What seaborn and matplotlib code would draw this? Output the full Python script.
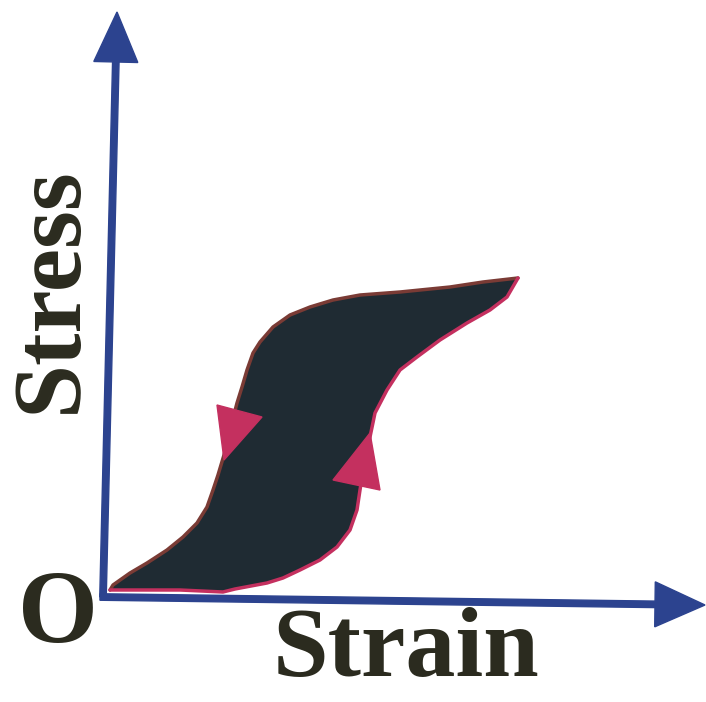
import numpy as np
import pandas as pd
import seaborn as sns
import matplotlib.pyplot as plt

# loading branch (origin -> tip), strain / stress in arbitrary units
load_strain = [0.07, 0.77, 1.20, 1.32, 1.64, 1.80, 1.97, 2.17, 2.34, 2.47, 2.54,
               2.57, 2.62, 2.67, 2.72, 2.84, 2.97, 3.14, 3.37, 3.64, 3.87,
               4.04, 4.15]
load_stress = [0.07, 0.07, 0.05, 0.08, 0.14, 0.19, 0.27, 0.37, 0.50, 0.67, 0.87,
               1.07, 1.37, 1.60, 1.84, 2.07, 2.27, 2.40, 2.57, 2.74, 2.87,
               3.00, 3.19]

# unloading branch (tip -> origin)
unload_strain = [4.15, 3.80, 3.47, 2.97, 2.57, 2.30, 2.07, 1.87, 1.70, 1.57,
                 1.50, 1.44, 1.39, 1.34, 1.27, 1.21, 1.15, 1.10, 1.04, 0.94,
                 0.80, 0.64, 0.44, 0.27, 0.10, 0.07]
unload_stress = [3.19, 3.15, 3.10, 3.05, 3.02, 2.97, 2.90, 2.82, 2.70, 2.55,
                 2.44, 2.27, 2.10, 1.94, 1.67, 1.42, 1.22, 1.07, 0.90, 0.74,
                 0.60, 0.47, 0.34, 0.24, 0.12, 0.07]

# direction markers on the loop
down_arrow_strain = [1.14, 1.59, 1.21]
down_arrow_stress = [1.92, 1.80, 1.37]
up_arrow_strain = [2.67, 2.77, 2.30]
up_arrow_stress = [1.64, 1.07, 1.17]

x_label = 'Strain'
y_label = 'Stress'
origin_label = 'O'

AXIS_BLUE = '#2c438f'
FILL = '#1f2b33'
PINK = '#c4305f'
BROWN = '#7a3b35'
INK = '#2b2b1f'

sns.set_style('white')
plt.rcParams['font.family'] = ['Liberation Serif', 'DejaVu Serif']

load = pd.DataFrame({'strain': load_strain, 'stress': load_stress})
unload = pd.DataFrame({'strain': unload_strain, 'stress': unload_stress})

fig = plt.figure(figsize=(7.06, 7.02), dpi=100)
ax = fig.add_axes([0, 0, 1, 1])
ax.set_xlim(-1.03, 6.03)
ax.set_ylim(-1.05, 5.97)
ax.axis('off')

# filled hysteresis loop
loop = pd.concat([load, unload.iloc[1:]], ignore_index=True)
ax.fill(loop['strain'], loop['stress'], color=FILL, zorder=2)
sns.lineplot(data=unload, x='strain', y='stress', sort=False, estimator=None,
             color=BROWN, lw=2.5, ax=ax, zorder=3, solid_joinstyle='round')
sns.lineplot(data=load, x='strain', y='stress', sort=False, estimator=None,
             color=PINK, lw=2.5, ax=ax, zorder=3, solid_joinstyle='round')

ax.fill(down_arrow_strain, down_arrow_stress, color=PINK, zorder=4)
ax.fill(up_arrow_strain, up_arrow_stress, color=PINK, zorder=4)

# axes drawn as arrows (photo is slightly rotated)
ax.arrow(0.0, 0.0, 0.14, 5.85, width=0.065, head_width=0.44, head_length=0.5,
         length_includes_head=True, color=AXIS_BLUE, zorder=5)
ax.arrow(-0.03, 0.0, 6.05, -0.08, width=0.065, head_width=0.45, head_length=0.5,
         length_includes_head=True, color=AXIS_BLUE, zorder=5)

ax.text(-0.51, 3.07, y_label, rotation=90, fontsize=70, fontweight='bold',
        color=INK, ha='center', va='center')
ax.text(3.03, -0.55, x_label, fontsize=72, fontweight='bold',
        color=INK, ha='center', va='center')
ax.text(-0.45, -0.2, origin_label, fontsize=74, fontweight='bold',
        color=INK, ha='center', va='center')

plt.savefig('out.png', dpi=100)
plt.close()
